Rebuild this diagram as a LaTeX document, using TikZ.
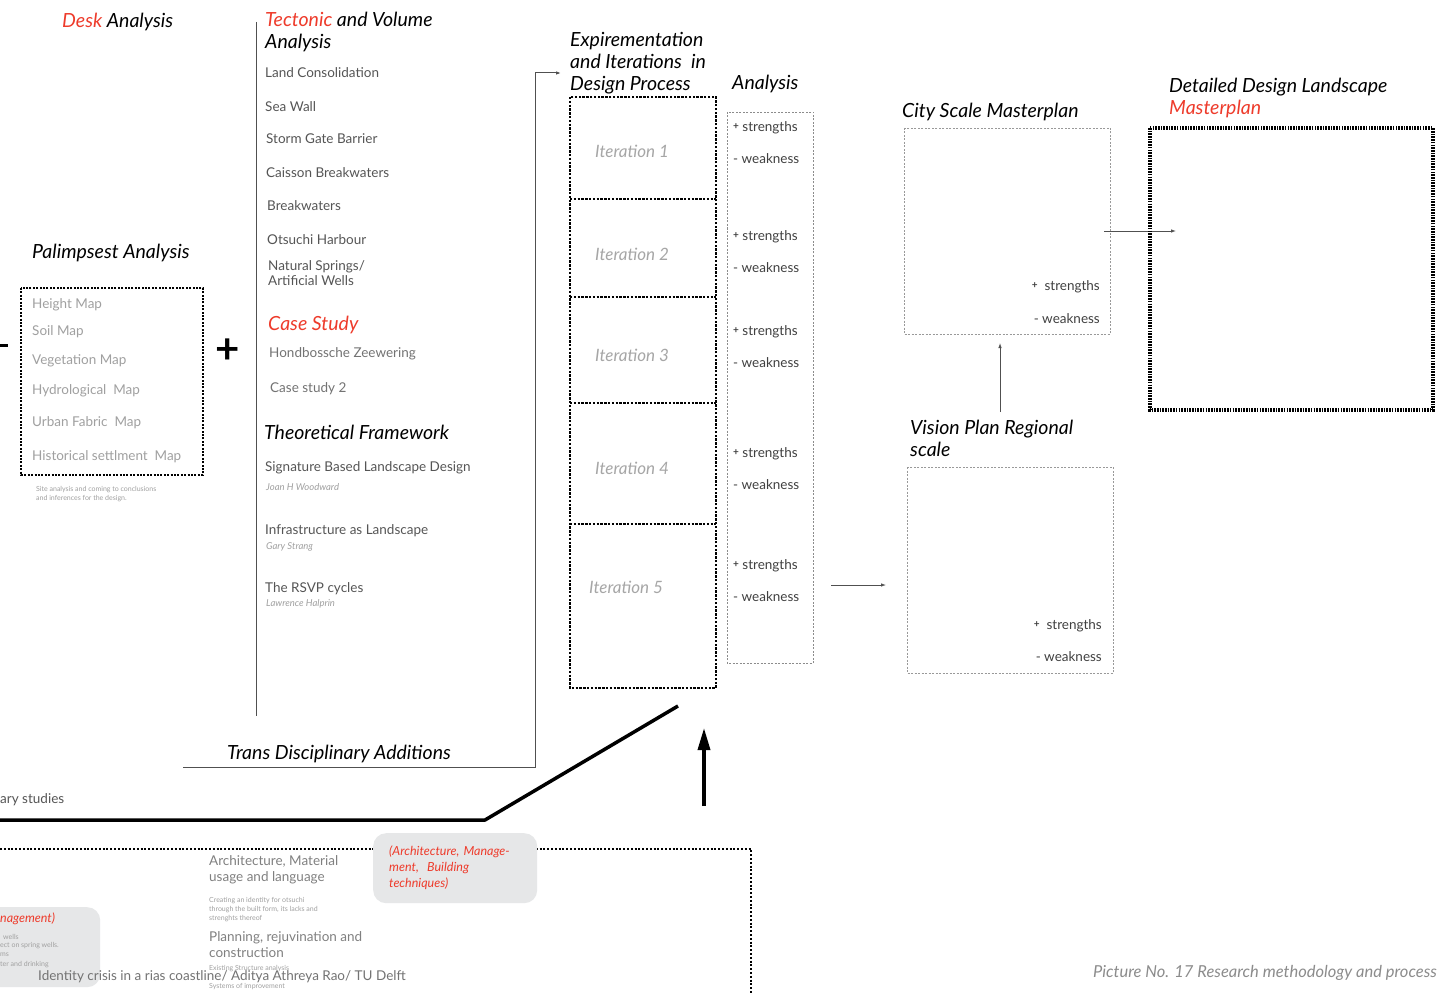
\documentclass[tikz,border=0pt]{standalone}
\usepackage{fontspec}
\setmainfont{Lato}
\usetikzlibrary{arrows.meta,positioning}

\definecolor{accent}{HTML}{EE3B2B}
\definecolor{ink}{HTML}{555555}
\definecolor{pale}{HTML}{A0A0A0}
\definecolor{panelgray}{HTML}{E6E7E8}
\definecolor{rule}{HTML}{505050}

\newcommand{\pluss}{\raisebox{2.5pt}{\fontsize{10}{10}\selectfont\bfseries +}}

\tikzset{
  head/.style={anchor=west, inner sep=0, align=left, font=\fontsize{19.5}{22}\selectfont\itshape},
  item/.style={anchor=west, inner sep=0, align=left, text=ink, font=\fontsize{13.5}{15}\selectfont},
  faint/.style={item, text=pale},
  author/.style={anchor=west, inner sep=0, text=pale, font=\fontsize{9.5}{10}\selectfont\itshape},
  tiny/.style={anchor=west, inner sep=0, align=left, text=pale, font=\fontsize{7}{9}\selectfont},
  iter/.style={anchor=west, inner sep=0, text=black!35, font=\fontsize{17}{18}\selectfont\itshape},
  sw/.style={anchor=west, inner sep=0, text=black!75, font=\fontsize{13.5}{15}\selectfont},
  panel/.style={anchor=north west, fill=panelgray, rounded corners=13pt, inner xsep=16pt, inner ysep=8pt, align=left},
  thinarrow/.style={draw=rule, line width=0.8pt, -{Latex[length=5pt,width=3.5pt]}},
  heavy/.style={line width=3.5pt, line cap=round, line join=round}
}

\begin{document}
\begin{tikzpicture}[x=1pt,y=-1pt]
  \clip (0,0) rectangle (1440,995);
  \fill[white] (0,0) rectangle (1440,995);

  % desk analysis column
  \node[head] (desk) at (62,22) {\textcolor{accent}{Desk} Analysis};
  \node[head] (palim) at (32,253) {Palimpsest Analysis};
  \draw[line width=2pt, dash pattern=on 2pt off 1.4pt] (21,288) rectangle (203,475);
  \node[faint] (height) at (32,305) {Height Map};
  \node[faint] (soil) at (32,332) {Soil Map};
  \node[faint] (veg) at (32,361) {Vegetation Map};
  \node[faint] (hydro) at (32,391) {Hydrological\ \ Map};
  \node[faint] (urban) at (32,423) {Urban Fabric\ \ Map};
  \node[faint] (hist) at (32,457) {Historical settlment\ \ Map};
  \node[tiny, font=\fontsize{7}{8.5}\selectfont] (siteNote) at (36,494) {Site analysis and coming to conclusions\\and inferences for the design.};
  \node[inner sep=0, font=\fontsize{42}{42}\selectfont\bfseries] (plus) at (228,351) {+};
  \draw[line width=3pt] (0,345) -- (8,345);

  % tectonic and theory column
  \draw[rule, line width=1pt] (256,22) -- (256,716);
  \node[head] (tect) at (265,32) {\textcolor{accent}{Tectonic} and Volume\\Analysis};
  \node[item] (land) at (265,73) {Land Consolidation};
  \node[item] (seawall) at (265,107) {Sea Wall};
  \node[item] (storm) at (266,139) {Storm Gate Barrier};
  \node[item] (caisson) at (266,173) {Caisson Breakwaters};
  \node[item] (breakw) at (267,206) {Breakwaters};
  \node[item] (harbour) at (267,240) {Otsuchi Harbour};
  \node[item] (springs) at (268,273) {Natural Springs/\\Artificial Wells};

  \node[head, text=accent] (case) at (268,325) {Case Study};
  \node[item, text=black!55] (hond) at (269,354) {Hondbossche Zeewering};
  \node[item, text=black!55] (case2) at (270,389) {Case study 2};

  \node[head] (theory) at (264,432) {Theoretical Framework};
  \node[item] (sig) at (265,468) {Signature Based Landscape Design};
  \node[author] (joan) at (266,487) {Joan H Woodward};
  \node[item] (infra) at (265,531) {Infrastructure as Landscape};
  \node[author] (gary) at (266,547) {Gary Strang};
  \node[item] (rsvp) at (265,589) {The RSVP cycles};
  \node[author] (halprin) at (266,604) {Lawrence Halprin};

  \node[head] (trans) at (227,754) {Trans Disciplinary Additions};
  \coordinate (tdStart) at (183,767);
  \coordinate (tdCorner) at (535,767);
  \coordinate (itIn) at (561,73);
  \draw[thinarrow, line width=1pt] (tdStart) -- (tdCorner) |- (itIn);

  % iterations
  \node[head] (expo) at (570,63) {Expirementation\\and Iterations\ \ in\\Design Process};
  \draw[line width=1.3pt, dash pattern=on 2.4pt off 1.4pt] (570,97) rectangle (716,688);
  \foreach \y in {199,297,403,524}
    \draw[line width=1.3pt, dash pattern=on 2.4pt off 1.4pt] (570,\y) -- (716,\y);
  \node[iter] (it1) at (595,151) {Iteration 1};
  \node[iter] (it2) at (595,254) {Iteration 2};
  \node[iter] (it3) at (595,355) {Iteration 3};
  \node[iter] (it4) at (595,468) {Iteration 4};
  \node[iter] (it5) at (589,587) {Iteration 5};

  % analysis column
  \node[head] (anal) at (732,84) {Analysis};
  \draw[black!45, line width=0.7pt, dash pattern=on 2pt off 1.5pt] (727,112) rectangle (813,663);
  \foreach \s in {128,237,332,454,566} {
    \node[sw] at (733,\s) {\pluss\ strengths};
    \node[sw] at (733,\s+31) {- weakness};
  }

  % masterplans
  \coordinate (analOut) at (831,585);
  \coordinate (visionIn) at (886,585);
  \draw[thinarrow] (analOut) -- (visionIn);

  \node[head] (vision) at (910,438) {Vision Plan Regional\\scale};
  \draw[black!40, line width=0.7pt, dash pattern=on 2pt off 1.5pt] (907,467) rectangle (1113,673);
  \node[sw, anchor=east] (visS) at (1102,626) {\pluss\ \ strengths};
  \node[sw, anchor=east] (visW) at (1102,657) {- weakness};

  \coordinate (visUp) at (1000,412);
  \coordinate (cityIn) at (1000,343);
  \draw[thinarrow] (visUp) -- (cityIn);

  \node[head] (city) at (902,112) {City Scale Masterplan};
  \draw[black!40, line width=0.7pt, dash pattern=on 2pt off 1.5pt] (904,128) rectangle (1110,334);
  \node[sw, anchor=east] (cityS) at (1100,287) {\pluss\ \ strengths};
  \node[sw, anchor=east] (cityW) at (1100,319) {- weakness};

  \coordinate (cityOut) at (1104,231);
  \coordinate (detIn) at (1176,231);
  \draw[thinarrow] (cityOut) -- (detIn);

  \node[head] (detail) at (1169,98) {Detailed Design Landscape\\\textcolor{accent}{Masterplan}};
  \draw[line width=4pt, dash pattern=on 1.6pt off 1.1pt] (1150,128) rectangle (1433,410);

  % bottom band
  \node[item, anchor=west] (studies) at (0,800) {ary studies};
  \coordinate (bandL) at (0,820);
  \coordinate (bandK) at (485,820);
  \coordinate (bandR) at (678,706);
  \draw[heavy, line cap=butt] (bandL) -- (bandK) -- (bandR);
  \coordinate (upFoot) at (704,806);
  \coordinate (upHead) at (704,728);
  \draw[line width=3.5pt, -{Triangle[length=22pt,width=12pt]}] (upFoot) -- (upHead);

  \draw[line width=1.2pt, dash pattern=on 2pt off 1.8pt] (0,849) -- (751,849) -- (751,995);
  \node[panel, text width=132pt, minimum height=70pt, text=accent, font=\fontsize{12.5}{16}\selectfont\itshape] (archBox) at (373,833) {(Architecture, Manage-\\ment,\ \ Building\\techniques)};
  \node[panel, text width=90pt, minimum width=130pt, minimum height=80pt] (mgmtBox) at (-30,907) {};
  \node[anchor=west, inner sep=0, text=accent, font=\fontsize{12.5}{14}\selectfont\itshape] (mgmt) at (0,919) {nagement)};
  \node[tiny] (w1) at (3,937) {wells};
  \node[tiny] (w2) at (0,946) {ect on spring wells.};
  \node[tiny] (w3) at (0,955) {ms};
  \node[tiny] (w4) at (0,965) {ter and drinking};

  \node[faint, text=black!50, font=\fontsize{13.5}{16}\selectfont] (archMat) at (209,870) {Architecture, Material\\usage and language};
  \node[tiny] (ident) at (209,910) {Creating an identity for otsuchi\\through the built form, its lacks and\\strenghts thereof};
  \node[faint, text=black!50, font=\fontsize{13.5}{16}\selectfont] (plan) at (209,945) {Planning, rejuvination and\\construction};
  \node[tiny] (exist) at (209,969) {Existing Structure analysis};
  \node[tiny] (sys) at (209,987) {Systems of improvement};

  \node[anchor=west, inner sep=0, text=black!55, font=\fontsize{13.5}{15}\selectfont] (footer) at (38,977) {Identity crisis in a rias coastline/ Aditya Athreya Rao/ TU Delft};
  \node[anchor=east, inner sep=0, text=black!45, font=\fontsize{16.5}{16.5}\selectfont\itshape] (caption) at (1437,973) {Picture No. 17 Research methodology and process};
\end{tikzpicture}
\end{document}
